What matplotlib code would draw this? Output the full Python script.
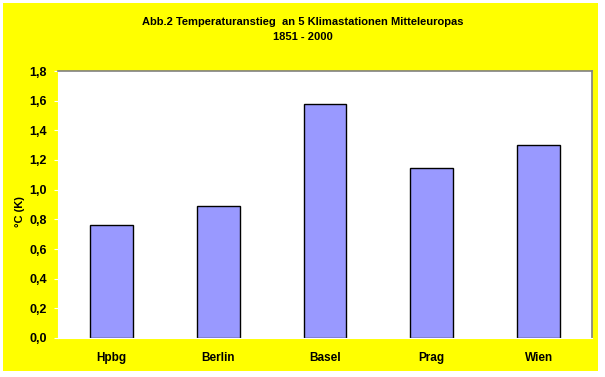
import matplotlib
matplotlib.use("Agg")
import matplotlib.pyplot as plt
from matplotlib.patches import Rectangle

stations = ["Hpbg", "Berlin", "Basel", "Prag", "Wien"]
values = [0.76, 0.89, 1.58, 1.145, 1.30]
yticks = [0.0, 0.2, 0.4, 0.6, 0.8, 1.0, 1.2, 1.4, 1.6, 1.8]
title = "Abb.2 Temperaturanstieg  an 5 Klimastationen Mitteleuropas\n1851 - 2000"
ylabel = "°C (K)"

W, H = 605, 377
fig = plt.figure(figsize=(W / 100, H / 100), dpi=100)
fig.patch.set_facecolor("white")
fig.patches.append(Rectangle((3 / W, 1 - 371 / H), 595 / W, 368 / H,
                             transform=fig.transFigure, facecolor="#FFFF00",
                             edgecolor="none", zorder=-10))

fam = ["Liberation Sans", "DejaVu Sans"]
left, right, top, bottom = 58, 592, 71, 338
ax = fig.add_axes([left / W, 1 - bottom / H, (right - left) / W, (bottom - top) / H])
ax.set_zorder(1)
ax.set_facecolor("white")
x = list(range(len(stations)))
ax.bar(x, values, width=0.40, color="#9999FF", edgecolor="#000000", linewidth=1.0, zorder=2)
ax.set_xlim(-0.5, len(stations) - 0.5)
ax.set_ylim(0, 1.8)
ax.set_yticks(yticks)
ax.set_yticklabels([f"{v:.1f}".replace(".", ",") for v in yticks],
                   fontsize=9, fontweight="bold", family=fam)
ax.set_xticks(x)
ax.set_xticklabels(stations, fontsize=8.5, fontweight="bold", family=fam)
ax.tick_params(axis="y", length=3, color="white", pad=5)
ax.tick_params(axis="x", length=0, pad=10)
for s in ["left", "bottom"]:
    ax.spines[s].set_color("white")
for s in ["top", "right"]:
    ax.spines[s].set_color("#808080")
    ax.spines[s].set_linewidth(1.2)

fig.text(303 / W, 1 - 29.5 / H, title, ha="center", va="center", fontsize=8,
         fontweight="bold", family=fam, linespacing=1.65)
fig.text(20 / W, 1 - 212 / H, ylabel, ha="center", va="center", rotation=90,
         fontsize=8, fontweight="bold", family=fam)

fig.savefig("out.png", dpi=100, facecolor=fig.get_facecolor())
